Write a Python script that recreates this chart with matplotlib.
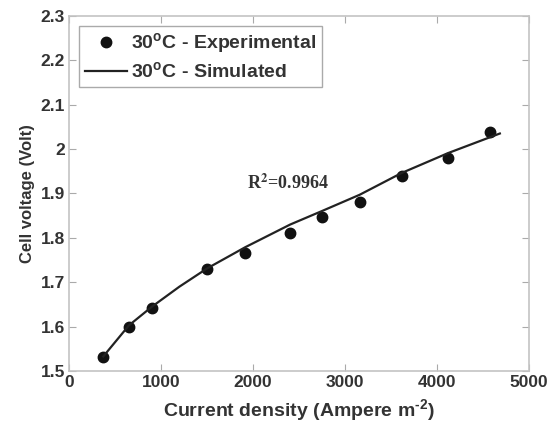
import numpy as np
import matplotlib.pyplot as plt

plt.rcParams['font.family'] = ['Liberation Sans', 'DejaVu Sans']
plt.rcParams['mathtext.fontset'] = 'custom'
plt.rcParams['mathtext.rm'] = 'Liberation Sans:bold'
plt.rcParams['mathtext.bf'] = 'Liberation Sans:bold'

# experimental points
exp_current = [373, 652, 902, 1500, 1917, 2405, 2746, 3160, 3616, 4123, 4573]
exp_voltage = [1.532, 1.600, 1.643, 1.729, 1.767, 1.810, 1.848, 1.881, 1.939, 1.979, 2.039]

# simulated curve
sim_current = [373, 652, 902, 1200, 1500, 1917, 2405, 2746, 3160, 3616, 4123, 4685]
sim_voltage = [1.533, 1.603, 1.645, 1.690, 1.731, 1.779, 1.830, 1.860, 1.897, 1.946, 1.991, 2.035]

xticks = [0, 1000, 2000, 3000, 4000, 5000]
yticks = [1.5, 1.6, 1.7, 1.8, 1.9, 2.0, 2.1, 2.2, 2.3]
yticklabels = ['1.5', '1.6', '1.7', '1.8', '1.9', '2', '2.1', '2.2', '2.3']

fig = plt.figure(figsize=(5.52, 4.28), dpi=100)
ax = fig.add_axes([0.125, 0.133, 0.833, 0.830])

ax.plot(exp_current, exp_voltage, 'o', color='#111111', markersize=7.5,
        label=r'30$^{\mathrm{o}}$C - Experimental')
ax.plot(sim_current, sim_voltage, '-', color='#222222', linewidth=1.6,
        label=r'30$^{\mathrm{o}}$C - Simulated')

ax.set_xlim(0, 5000)
ax.set_ylim(1.5, 2.3)
ax.set_xticks(xticks)
ax.set_yticks(yticks)
ax.set_yticklabels(yticklabels)
ax.tick_params(direction='in', top=True, right=True, length=5, width=0.8,
               color='#aaaaaa', labelsize=12.5, labelcolor='#333333', pad=3)
for lab in ax.get_xticklabels() + ax.get_yticklabels():
    lab.set_fontweight('bold')
for sp in ax.spines.values():
    sp.set_color('#c4c4c4')
    sp.set_linewidth(1.2)

ax.set_xlabel(r'Current density (Ampere m$^{\text{-}2}$)', fontsize=14,
              fontweight='bold', color='#333333', labelpad=5)
ax.set_ylabel('Cell voltage (Volt)', fontsize=12, fontweight='bold',
              color='#333333', labelpad=4)

ax.text(1940, 1.924, r'R$^{\mathbf{2}}$=0.9964', fontsize=13, fontweight='bold',
        family='Liberation Serif', color='#333333', va='center', ha='left',
        math_fontfamily='stix')

leg = ax.legend(loc='upper left', fontsize=14, handlelength=2.2,
                handletextpad=0.2, borderpad=0.3, labelspacing=0.25,
                fancybox=False, borderaxespad=0.5, framealpha=1)
leg.get_frame().set_edgecolor('#aaaaaa')
leg.get_frame().set_linewidth(1.0)
for t in leg.get_texts():
    t.set_fontweight('bold')
    t.set_color('#333333')

fig.savefig('out.png', dpi=100)
